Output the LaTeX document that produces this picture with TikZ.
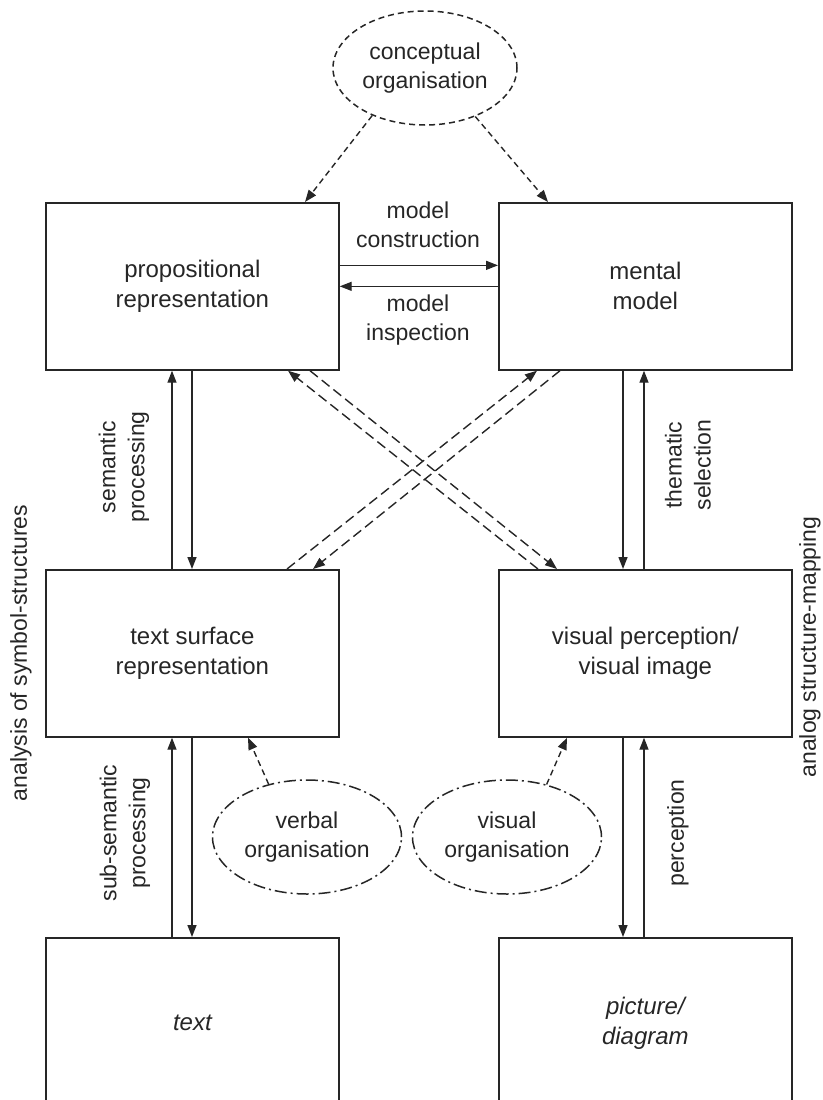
\documentclass[tikz,border=0pt]{standalone}
\usepackage{fontspec}
\setmainfont{Liberation Sans}
\usetikzlibrary{shapes.geometric,arrows.meta,calc}
\definecolor{ink}{HTML}{262626}
\begin{document}
\begin{tikzpicture}[x=1pt,y=-1pt,
  every node/.style={text=ink, font=\fontsize{23}{29}\selectfont},
  box/.style={draw=ink, line width=1.7pt, minimum width=293pt, minimum height=167pt, inner sep=0pt, align=center, anchor=north west, font=\fontsize{24}{30}\selectfont},
  lbl/.style={align=center, inner sep=0pt},
  arr/.style={draw=ink, line width=1.4pt, -{Triangle[length=12pt,width=9pt]}},
  crossarr/.style={arr, dash pattern=on 10pt off 5pt},
  orgarr/.style={arr, dash pattern=on 6pt off 4pt},
  conc/.style={ellipse, draw=ink, line width=1.5pt, dash pattern=on 6pt off 4pt, minimum width=184pt, minimum height=114pt, inner sep=0pt, align=center},
  orgell/.style={ellipse, draw=ink, line width=1.5pt, dash pattern=on 12pt off 4pt on 2pt off 4pt, minimum width=189pt, minimum height=114pt, inner sep=0pt, align=center}
]
\useasboundingbox (0,0) rectangle (822,1100);
\clip (0,0) rectangle (822,1100);

% boxes
\node[box] (prop) at (45,202) {propositional\\representation};
\node[box] (mm) at (498,202) {mental\\model};
\node[box] (ts) at (45,569) {text surface\\representation};
\node[box] (vis) at (498,569) {visual perception/\\visual image};
\node[box, minimum height=170pt] (txt) at (45,937) {\itshape text};
\node[box, minimum height=170pt] (pic) at (498,937) {\itshape picture/\\\itshape diagram};

% ellipses
\node[conc] (co) at (425,68) {conceptual\\organisation};
\node[orgell] (vo) at (307,837) {verbal\\organisation};
\node[orgell] (vi) at (507,837) {visual\\organisation};

% model construction / inspection
\draw[arr] ([yshift=21pt]prop.east) -- ([yshift=21pt]mm.west);
\draw[arr] (mm.west) -- (prop.east);
\node[lbl] (mc) at (418,225) {model\\construction};
\node[lbl] (mi) at (418,320) {model\\inspection};

% conceptual organisation arrows
\draw[orgarr] (co.222) -- ([xshift=260pt]prop.north west);
\draw[orgarr] (co.-44) -- ([xshift=50pt]mm.north west);

% left column vertical arrows
\draw[arr] ([xshift=127pt]ts.north west) -- ([xshift=127pt]prop.south west);
\draw[arr] ([xshift=147pt]prop.south west) -- ([xshift=147pt]ts.north west);
\draw[arr] ([xshift=127pt]txt.north west) -- ([xshift=127pt]ts.south west);
\draw[arr] ([xshift=147pt]ts.south west) -- ([xshift=147pt]txt.north west);

% right column vertical arrows
\draw[arr] ([xshift=125pt]mm.south west) -- ([xshift=125pt]vis.north west);
\draw[arr] ([xshift=146pt]vis.north west) -- ([xshift=146pt]mm.south west);
\draw[arr] ([xshift=125pt]vis.south west) -- ([xshift=125pt]pic.north west);
\draw[arr] ([xshift=146pt]pic.north west) -- ([xshift=146pt]vis.south west);

% crossing dashed arrows
\draw[crossarr] ([xshift=265pt]prop.south west) -- ([xshift=59pt]vis.north west);
\draw[crossarr] ([xshift=40pt]vis.north west) -- ([xshift=243pt]prop.south west);
\draw[crossarr] ([xshift=62pt]mm.south west) -- ([xshift=268pt]ts.north west);
\draw[crossarr] ([xshift=242pt]ts.north west) -- ([xshift=39pt]mm.south west);

% organisation arrows
\draw[orgarr] (vo.126) -- ([xshift=203pt]ts.south west);
\draw[orgarr] (vi.53) -- ([xshift=69pt]vis.south west);

% vertical labels
\node[lbl, rotate=90] (sp) at (124,467) {semantic\\processing};
\node[lbl, rotate=90] (tsel) at (688,465) {thematic\\selection};
\node[lbl, rotate=90] (ssp) at (125,833) {sub-semantic\\processing};
\node[lbl, rotate=90] (perc) at (678,833) {perception};
\node[lbl, rotate=90] (asy) at (21,653) {analysis of symbol-structures};
\node[lbl, rotate=90] (asm) at (810,647) {analog structure-mapping};
\end{tikzpicture}
\end{document}
